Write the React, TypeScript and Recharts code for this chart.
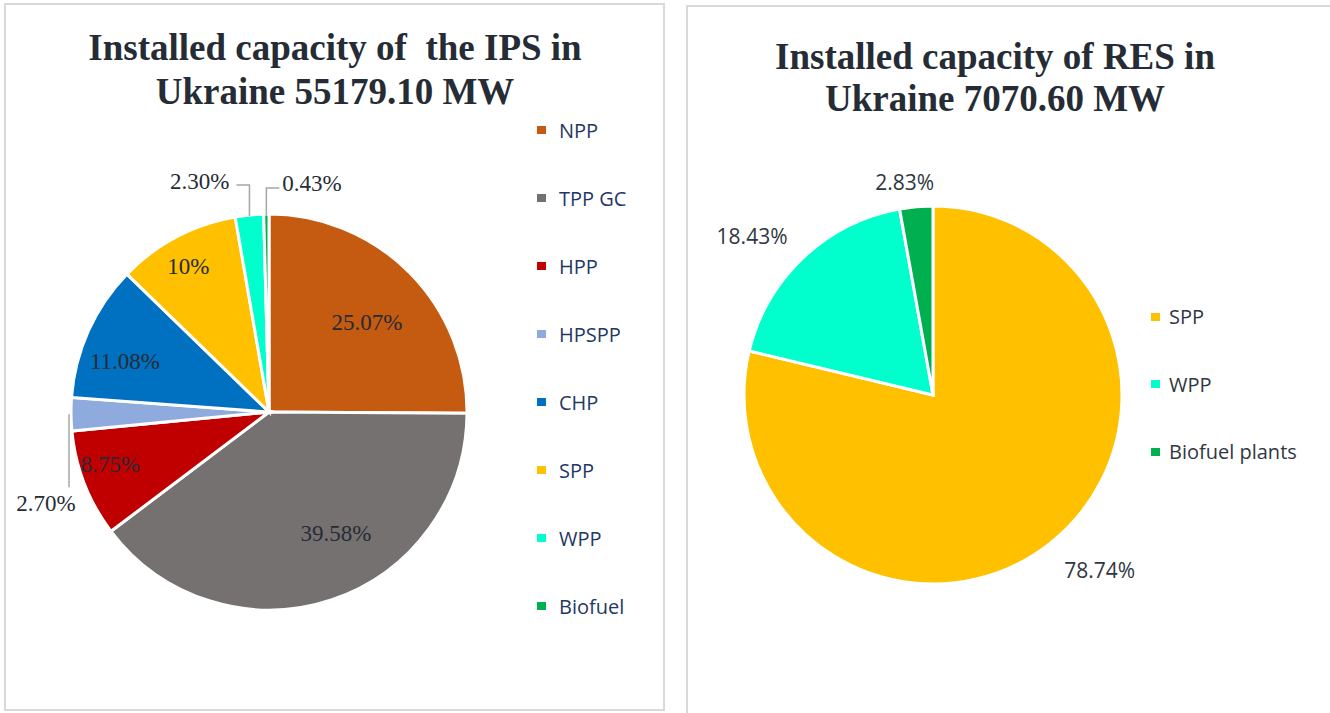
import React from "react";
import { PieChart, Pie, Cell, Legend } from "recharts";

// IPS structure, shares in %
const ipsCategories = ["NPP", "TPP GC", "HPP", "HPSPP", "CHP", "SPP", "WPP", "Biofuel"];
const ipsShares = [25.07, 39.58, 8.75, 2.7, 11.08, 10, 2.3, 0.43];
const ipsLabels = ["25.07%", "39.58%", "8.75%", "2.70%", "11.08%", "10%", "2.30%", "0.43%"];

// RES structure, shares in %
const resCategories = ["SPP", "WPP", "Biofuel plants"];
const resShares = [78.74, 18.43, 2.83];
const resLabels = ["78.74%", "18.43%", "2.83%"];

const ipsColors = ["#C55A11", "#767171", "#C00000", "#8FAADC", "#0070C0", "#FFC000", "#00FFCC", "#00B050"];
const resColors = ["#FFC000", "#00FFCC", "#00B050"];

const ipsData = ipsCategories.map((name, i) => ({ name, value: ipsShares[i] }));
const resData = resCategories.map((name, i) => ({ name, value: resShares[i] }));

const RAD = Math.PI / 180;
const polar = (cx: number, cy: number, r: number, angle: number) => ({
  x: cx + r * Math.cos(-angle * RAD),
  y: cy + r * Math.sin(-angle * RAD),
});

// label placement tweaks (radius factor, angle nudge in degrees)
const ipsInside: Record<string, { k: number; shift: number }> = {
  NPP: { k: 0.67, shift: -2.4 },
  "TPP GC": { k: 0.7, shift: 10.5 },
  HPP: { k: 0.845, shift: -3 },
  CHP: { k: 0.77, shift: 5 },
  SPP: { k: 0.84, shift: 1.2 },
};
const resOutside: Record<string, { k: number; shift: number }> = {
  SPP: { k: 1.28, shift: 5.3 },
  WPP: { k: 1.275, shift: 5.3 },
  "Biofuel plants": { k: 1.135, shift: 2.5 },
};

const serifLabel = { fontFamily: "'Liberation Serif', 'Times New Roman', serif", fontSize: 23, fill: "#262C36" };
const leader = { fill: "none", stroke: "#A6A6A6", strokeWidth: 1.5 };

function renderIpsLabel(props: any) {
  const { cx, cy, midAngle, outerRadius, index } = props;
  const name = ipsCategories[index];
  const text = ipsLabels[index];
  const inside = ipsInside[name];
  if (inside) {
    const p = polar(cx, cy, outerRadius * inside.k, midAngle + inside.shift);
    return (
      <text x={p.x} y={p.y} textAnchor="middle" dominantBaseline="central" {...serifLabel}>
        {text}
      </text>
    );
  }
  const e = polar(cx, cy, outerRadius - 1, midAngle);
  if (name === "HPSPP") {
    const x = e.x - 3;
    return (
      <g>
        <polyline points={`${x},${e.y} ${x},${e.y + 73}`} {...leader} />
        <text x={x - 23} y={e.y + 89} textAnchor="middle" dominantBaseline="central" {...serifLabel}>
          {text}
        </text>
      </g>
    );
  }
  if (name === "WPP") {
    const top = e.y - 31;
    return (
      <g>
        <polyline points={`${e.x},${e.y} ${e.x},${top} ${e.x - 13},${top}`} {...leader} />
        <text x={e.x - 20} y={top - 3} textAnchor="end" dominantBaseline="central" {...serifLabel}>
          {text}
        </text>
      </g>
    );
  }
  const top = e.y - 27;
  return (
    <g>
      <polyline points={`${e.x},${e.y} ${e.x},${top} ${e.x + 13},${top}`} {...leader} />
      <text x={e.x + 16} y={top - 5} textAnchor="start" dominantBaseline="central" {...serifLabel}>
        {text}
      </text>
    </g>
  );
}

function renderResLabel(props: any) {
  const { cx, cy, midAngle, outerRadius, index } = props;
  const place = resOutside[resCategories[index]];
  const p = polar(cx, cy, outerRadius * place.k, midAngle + place.shift);
  return (
    <text
      x={p.x}
      y={p.y}
      textAnchor="middle"
      dominantBaseline="central"
      fontFamily="'Open Sans', sans-serif"
      fontSize={21}
      fill="#2F3742"
    >
      {resLabels[index]}
    </text>
  );
}

function LegendList({ payload, order, colors, rowH, gap, color }: any) {
  const items = [...(payload || [])].sort(
    (a: any, b: any) => order.indexOf(a.value) - order.indexOf(b.value)
  );
  return (
    <div>
      {items.map((entry: any, i: number) => (
        <div key={i} style={{ height: rowH, display: "flex", alignItems: "center" }}>
          <span
            style={{
              width: 9,
              height: 8,
              background: entry.color || colors[order.indexOf(entry.value)],
              display: "inline-block",
            }}
          />
          <span
            style={{
              marginLeft: gap,
              fontFamily: "'Open Sans', sans-serif",
              fontSize: 20,
              color,
              whiteSpace: "nowrap",
            }}
          >
            {entry.value}
          </span>
        </div>
      ))}
    </div>
  );
}

const titleStyle: React.CSSProperties = {
  position: "absolute",
  fontFamily: "'Liberation Serif', 'Times New Roman', serif",
  fontWeight: "bold",
  fontSize: 37,
  color: "#262C36",
  textAlign: "center",
};

export default function App() {
  return (
    <div
      style={{
        position: "absolute",
        left: 0,
        top: 0,
        width: 1330,
        height: 713,
        background: "#fff",
        overflow: "hidden",
      }}
    >
      <div
        style={{
          position: "absolute",
          left: 4,
          top: 3,
          width: 661,
          height: 708,
          border: "2px solid #D9D9D9",
          boxSizing: "border-box",
        }}
      />
      <div
        style={{
          position: "absolute",
          left: 686,
          top: 5,
          width: 700,
          height: 730,
          border: "2px solid #D9D9D9",
          boxSizing: "border-box",
        }}
      />

      <div style={{ ...titleStyle, left: 35, top: 26, width: 600, lineHeight: "44px" }}>
        Installed capacity of&nbsp; the IPS in
        <br />
        Ukraine 55179.10 MW
      </div>
      <div style={{ ...titleStyle, left: 695, top: 36, width: 600, lineHeight: "42px" }}>
        Installed capacity of RES in
        <br />
        Ukraine 7070.60 MW
      </div>

      <div style={{ position: "absolute", left: 0, top: 0 }}>
        <PieChart width={680} height={713} margin={{ top: 0, right: 0, bottom: 0, left: 0 }}>
          <Pie
            data={ipsData}
            dataKey="value"
            nameKey="name"
            cx={269}
            cy={412}
            outerRadius={198}
            startAngle={90}
            endAngle={-270}
            stroke="#FFFFFF"
            strokeWidth={3}
            label={renderIpsLabel}
            labelLine={false}
            isAnimationActive={false}
          >
            {ipsData.map((d, i) => (
              <Cell key={d.name} fill={ipsColors[i]} />
            ))}
          </Pie>
          <Legend
            layout="vertical"
            wrapperStyle={{ position: "absolute", left: 537, top: 96, width: 130 }}
            content={(p: any) => (
              <LegendList
                payload={p.payload}
                order={ipsCategories}
                colors={ipsColors}
                rowH={68}
                gap={13}
                color="#1F3864"
              />
            )}
          />
        </PieChart>
      </div>

      <div style={{ position: "absolute", left: 680, top: 0 }}>
        <PieChart width={650} height={713} margin={{ top: 0, right: 0, bottom: 0, left: 0 }}>
          <Pie
            data={resData}
            dataKey="value"
            nameKey="name"
            cx={253}
            cy={395}
            outerRadius={189}
            startAngle={90}
            endAngle={-270}
            stroke="#FFFFFF"
            strokeWidth={3}
            label={renderResLabel}
            labelLine={false}
            isAnimationActive={false}
          >
            {resData.map((d, i) => (
              <Cell key={d.name} fill={resColors[i]} />
            ))}
          </Pie>
          <Legend
            layout="vertical"
            wrapperStyle={{ position: "absolute", left: 471, top: 283, width: 170 }}
            content={(p: any) => (
              <LegendList
                payload={p.payload}
                order={resCategories}
                colors={resColors}
                rowH={67.5}
                gap={9}
                color="#2F3742"
              />
            )}
          />
        </PieChart>
      </div>
    </div>
  );
}
